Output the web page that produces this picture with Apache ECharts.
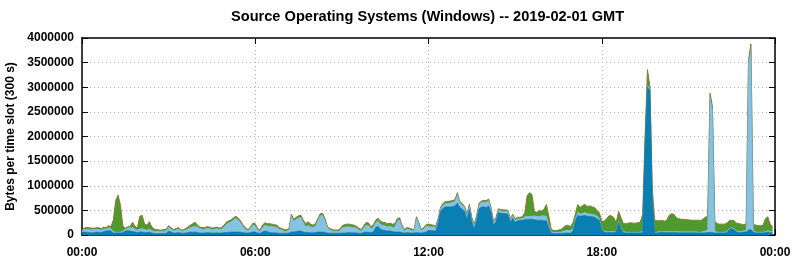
<!DOCTYPE html>
<html>
<head>
<meta charset="utf-8">
<script src="https://cdn.jsdelivr.net/npm/echarts@6/dist/echarts.min.js"></script>
<style>
html,body{margin:0;padding:0;background:#fff;}
#chart{width:795px;height:260px;}
</style>
</head>
<body>
<div id="chart"></div>
<script>
// 5-minute slots (288 per day); values in kilobytes per slot (x1000 = bytes)
var slotMinutes = 5;
var slotsPerDay = 288;
var tickEverySlots = 72; // 6 hours
var xTicks = ['00:00', '06:00', '12:00', '18:00', '00:00'];
var yTicks = [0, 500000, 1000000, 1500000, 2000000, 2500000, 3000000, 3500000, 4000000];

var darkBlue = [
  50,60,55,50,45,50,60,55,50,70,80,90,
  80,40,40,40,40,50,80,90,80,70,60,50,
  60,60,50,50,60,40,30,30,30,30,30,35,
  80,60,40,40,50,40,35,40,50,60,55,60,
  50,40,40,40,50,45,40,40,45,40,40,50,
  50,55,60,60,60,60,55,50,40,40,50,60,
  60,40,35,60,80,70,50,45,45,40,35,35,
  35,35,40,60,60,70,80,80,60,50,50,45,
  45,50,60,60,60,50,40,35,35,35,35,35,
  40,40,45,50,45,45,40,35,35,50,60,55,
  50,60,150,180,120,100,90,80,80,70,60,60,
  60,50,40,50,45,40,40,50,45,40,50,60,
  90,90,85,80,250,480,540,570,570,570,580,590,
  650,560,530,480,320,520,260,130,300,530,570,570,
  560,590,460,200,270,450,440,440,430,420,260,340,
  260,290,300,300,310,320,320,320,310,300,300,300,
  290,290,150,40,30,30,30,30,35,40,40,40,
  80,280,400,380,390,400,380,380,370,360,330,300,
  100,60,50,50,50,50,60,250,120,50,40,40,
  40,40,40,40,40,50,1800,3000,2950,700,40,40,
  50,60,50,50,50,50,50,50,45,45,45,45,
  45,45,45,45,40,40,40,45,50,50,50,40,
  40,40,40,40,50,110,130,110,60,50,50,60,
  60,100,110,60,40,40,40,40,50,60,50,50
];
var lightBlue = [
  40,55,60,60,60,55,60,55,50,55,40,60,
  50,30,20,20,20,30,40,50,70,80,60,50,
  60,70,60,50,60,50,50,50,45,45,50,50,
  80,60,50,60,70,50,45,60,70,90,110,120,
  110,90,80,80,90,85,70,80,85,75,80,110,
  170,195,210,250,280,245,190,120,70,45,80,140,
  130,60,40,90,120,115,130,130,120,115,80,65,
  45,45,60,330,220,250,270,280,190,120,150,120,
  110,130,230,330,340,240,100,65,50,40,40,45,
  100,120,125,120,115,110,100,70,45,90,140,145,
  80,90,100,110,100,100,100,90,100,90,100,220,
  250,110,40,70,65,55,45,290,175,45,70,120,
  90,80,80,70,50,50,60,70,75,80,85,95,
  170,90,80,70,70,80,60,60,70,80,90,100,
  110,110,70,50,50,50,50,40,50,50,40,50,
  40,40,30,40,60,60,60,60,80,80,80,90,
  100,90,60,30,25,25,30,30,40,50,60,50,
  50,40,60,50,50,60,50,50,50,50,50,40,
  30,20,20,20,20,20,20,30,20,20,20,20,
  20,20,20,20,20,30,20,30,20,20,20,20,
  20,20,20,20,20,20,20,20,20,20,20,20,
  20,20,20,20,20,20,30,40,60,2750,2500,40,
  20,20,20,20,20,20,20,20,20,20,20,30,
  30,3400,3650,30,20,20,20,20,20,30,20,20
];
var green = [
  20,25,35,35,35,30,30,35,30,35,30,40,
  40,230,640,750,540,100,20,20,30,110,60,40,
  260,270,110,100,150,70,40,30,25,25,30,35,
  30,30,20,30,30,20,20,30,40,50,65,80,
  40,30,30,30,30,30,30,30,30,25,30,40,
  40,40,40,40,40,35,35,30,30,25,30,40,
  40,30,25,50,50,45,50,45,45,45,35,30,
  30,30,30,30,40,40,40,40,50,60,70,55,
  45,50,40,40,40,40,30,30,25,25,25,30,
  40,50,50,50,50,45,40,35,30,40,50,50,
  40,50,50,50,60,60,60,60,60,60,70,50,
  40,40,30,30,30,25,25,30,30,25,30,30,
  40,40,35,30,30,30,40,40,35,40,35,35,
  40,30,30,30,30,30,30,30,30,30,30,30,
  30,30,30,30,30,30,30,30,30,30,30,30,
  30,30,30,30,80,420,480,440,90,80,110,100,
  130,240,170,50,35,35,40,50,75,100,100,80,
  120,100,160,130,160,160,150,160,150,150,120,110,
  150,200,260,320,320,280,170,200,210,160,170,180,
  190,180,180,190,200,340,200,330,50,210,240,230,
  220,220,210,230,330,360,350,280,265,255,255,245,
  245,235,235,235,240,230,250,275,270,80,60,200,
  170,160,160,160,170,160,150,160,160,160,150,120,
  140,60,120,130,140,130,130,140,260,280,150,100
];

// category slots: 0..288 (the last one is the 24:00 boundary)
var slots = [];
for (var s = 0; s <= slotsPerDay; s++) slots.push(String(s * slotMinutes));
function toBytes(arr) { return arr.map(function (v) { return v * 1000; }); }
function isTick(idx) { return idx % tickEverySlots === 0; }

var FONT = '"Liberation Sans", Arial, sans-serif';
var chart = echarts.init(document.getElementById('chart'), null, {renderer: 'canvas'});

var gridLine = {show: true, interval: function (i) { return isTick(i); },
  lineStyle: {color: '#b4b4b4', type: [1, 3], width: 1}};

chart.setOption({
  animation: false,
  backgroundColor: '#ffffff',
  title: {
    text: 'Source Operating Systems (Windows) -- 2019-02-01 GMT',
    left: 226, top: 4,
    textStyle: {fontFamily: FONT, fontSize: 14.6, fontWeight: 'bold', color: '#000'}
  },
  grid: {left: 82, right: 20, top: 38, bottom: 25, containLabel: false, outerBoundsMode: 'none'},
  xAxis: [{
    type: 'category', data: slots, boundaryGap: false,
    axisLine: {show: true, onZero: false, lineStyle: {color: '#000', width: 1.5}},
    axisTick: {show: true, inside: true, length: 6, interval: function (i) { return isTick(i); }, lineStyle: {color: '#000'}},
    splitLine: gridLine,
    axisLabel: {
      margin: 12, color: '#000', fontFamily: FONT, fontSize: 12, fontWeight: 'bold',
      interval: function (i) { return isTick(i); },
      formatter: function (v, i) { return xTicks[Math.round(i / tickEverySlots)]; }
    }
  }, {
    type: 'category', data: slots, boundaryGap: false, position: 'top',
    axisLine: {show: true, onZero: false, lineStyle: {color: '#000', width: 1.5}},
    axisTick: {show: true, inside: true, length: 6, interval: function (i) { return isTick(i); }, lineStyle: {color: '#000'}},
    axisLabel: {show: false}, splitLine: {show: false}
  }],
  yAxis: [{
    type: 'value', min: 0, max: 4000000, interval: 500000,
    name: 'Bytes per time slot (300 s)', nameLocation: 'middle', nameRotate: 90, nameGap: 62,
    nameTextStyle: {fontFamily: FONT, fontSize: 12, fontWeight: 'bold', color: '#000'},
    axisLine: {show: true, lineStyle: {color: '#000', width: 1.5}},
    axisTick: {show: true, inside: true, length: 6, lineStyle: {color: '#000'}},
    splitLine: {show: true, lineStyle: {color: '#b4b4b4', type: [1, 3], width: 1}},
    axisLabel: {
      margin: 8, color: '#000', fontFamily: FONT, fontSize: 12, fontWeight: 'bold',
      formatter: function (v) { return String(yTicks[Math.round(v / 500000)]); }
    }
  }, {
    type: 'value', min: 0, max: 4000000, interval: 500000, position: 'right',
    axisLine: {show: true, lineStyle: {color: '#000', width: 1.5}},
    axisTick: {show: true, inside: true, length: 6, lineStyle: {color: '#000'}},
    axisLabel: {show: false}, splitLine: {show: false}
  }],
  series: [{
    name: 'dark', type: 'line', stack: 'total', showSymbol: false, symbol: 'none',
    data: toBytes(darkBlue),
    lineStyle: {color: '#0a6f9f', width: 0.6},
    areaStyle: {color: '#0a7fb2', opacity: 1}, z: 3
  }, {
    name: 'light', type: 'line', stack: 'total', showSymbol: false, symbol: 'none',
    data: toBytes(lightBlue),
    lineStyle: {color: '#6aa9c8', width: 0.6},
    areaStyle: {color: '#86c3e3', opacity: 1}, z: 2
  }, {
    name: 'green', type: 'line', stack: 'total', showSymbol: false, symbol: 'none',
    data: toBytes(green),
    lineStyle: {color: '#8a7a35', width: 1},
    areaStyle: {color: '#4e9a2c', opacity: 1}, z: 1
  }]
});
</script>
</body>
</html>
